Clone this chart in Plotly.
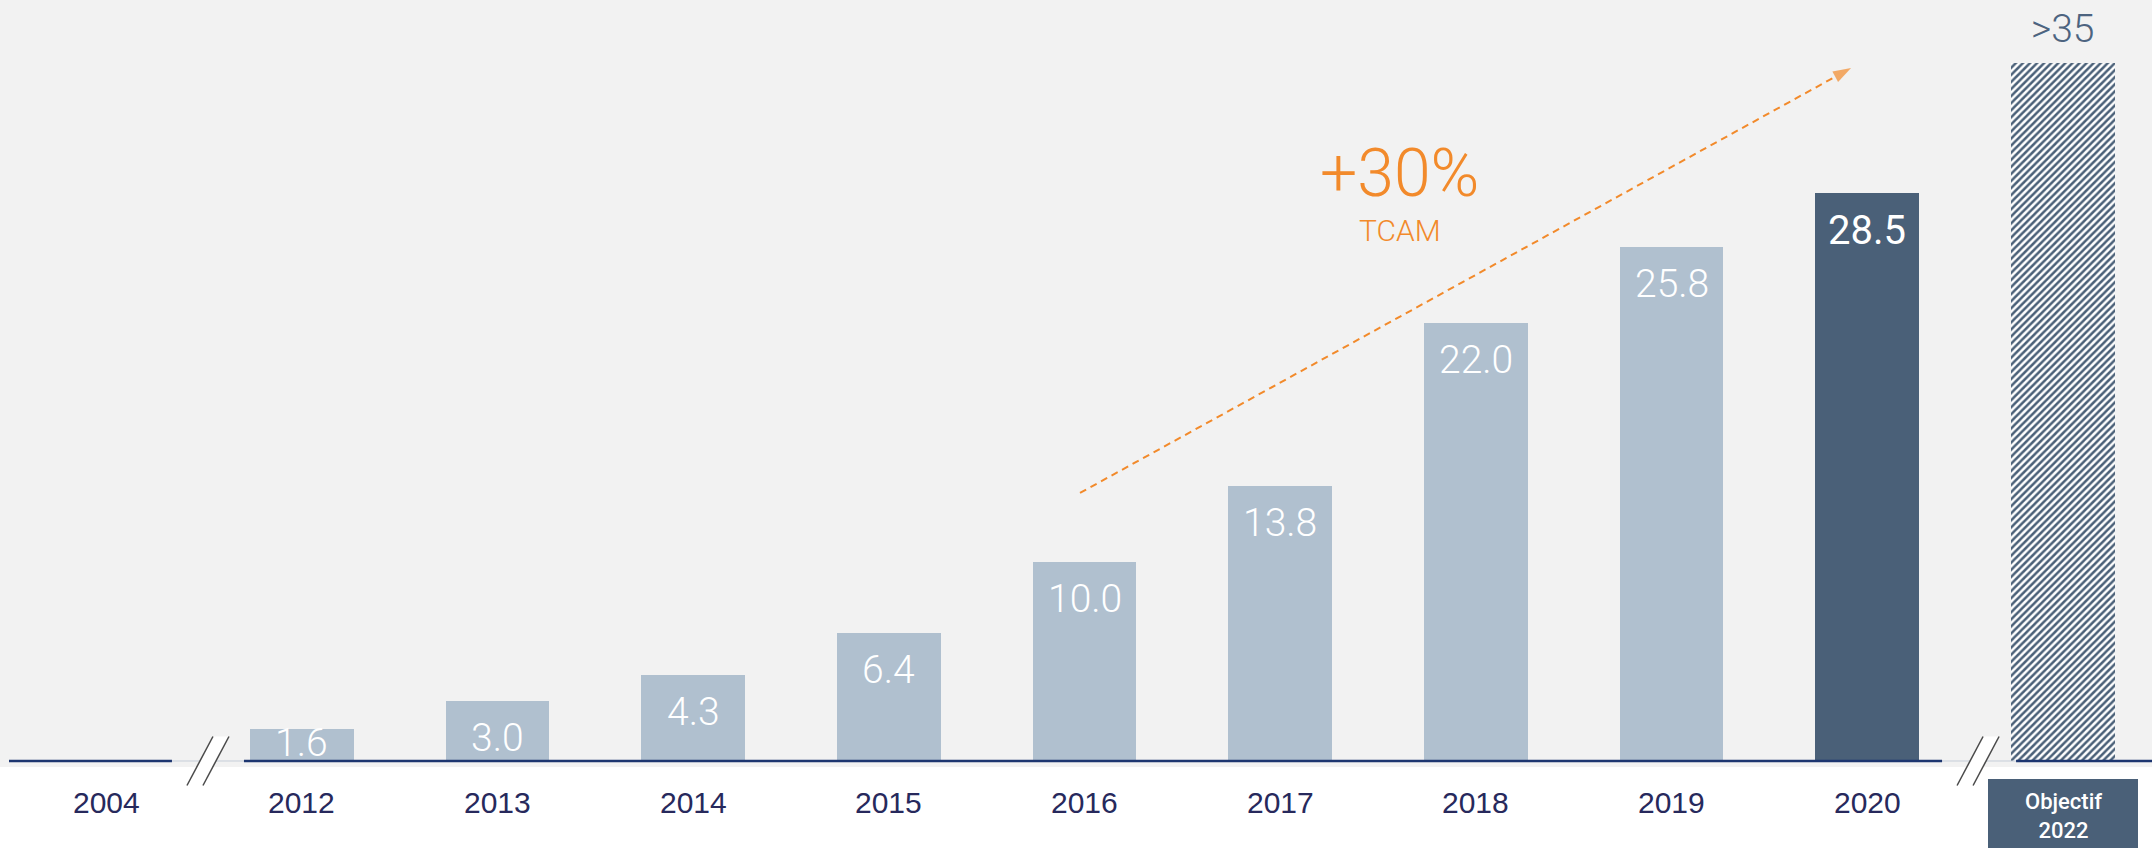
import plotly.graph_objects as go

# ---------------- data ----------------
categories = ["2004", "2012", "2013", "2014", "2015", "2016", "2017", "2018", "2019", "2020", "Objectif<br>2022"]
values = [None, 1.6, 3.0, 4.3, 6.4, 10.0, 13.8, 22.0, 25.8, 28.5, 35.0]
value_labels = ["", "1.6", "3.0", "4.3", "6.4", "10.0", "13.8", "22.0", "25.8", "28.5", ">35"]
growth_label = "+30%"
growth_sub = "TCAM"

# ---------------- styling / geometry ----------------
W, H = 2152, 848
B_MARGIN = 81
PLOT_H = H - B_MARGIN
CAT_PX = 195.7          # pixels per category
X0_PX = 106.0           # pixel of first category
PPU = 19.93             # pixels per unit on y
XMIN = -X0_PX / CAT_PX
XMAX = XMIN + W / CAT_PX
YMIN = -6 / PPU
YMAX = YMIN + PLOT_H / PPU

LIGHT = "#b0c0cf"
DARK = "#4a6078"
ORANGE = "#f28a2b"
NAVY = "#1d3670"
TICK = "#27295c"
BG = "#f2f2f2"
LABEL_FONT = "Roboto"
TICK_FONT = "Liberation Sans"

n = len(categories)
idx = list(range(n))
last = n - 1
bar_colors = [LIGHT] * (n - 2) + [DARK, "white"]


def xp(i):
    return (i - XMIN) / (XMAX - XMIN)


def yp(v):
    return (v - YMIN) / (YMAX - YMIN)


def dy(p):  # vertical pixel distance -> paper
    return p / PLOT_H


fig = go.Figure()

bar_x = [i for i in idx if values[i] is not None and i != last]
fig.add_trace(go.Bar(
    x=bar_x,
    y=[values[i] for i in bar_x],
    width=0.53,
    marker=dict(color=[bar_colors[i] for i in bar_x], line=dict(width=0)),
    hoverinfo="skip",
    showlegend=False,
))
# target bar (hatched)
fig.add_trace(go.Bar(
    x=[last],
    y=[values[last]],
    width=0.53,
    marker=dict(
        color="white",
        line=dict(width=0),
        pattern=dict(shape="/", fgcolor=DARK, bgcolor="white", size=5, solidity=0.5, fgopacity=1),
    ),
    hoverinfo="skip",
    showlegend=False,
))

# growth arrow (dashed line + arrow head)
arrow_x = [4.977, 8.917]
arrow_y = [13.45, 34.77]
fig.add_trace(go.Scatter(
    x=arrow_x, y=arrow_y, mode="lines+markers",
    line=dict(color=ORANGE, width=2, dash="7px,5px"),
    marker=dict(symbol="arrow", size=[0, 19], color=ORANGE, angleref="previous", line=dict(width=0)),
    hoverinfo="skip", showlegend=False, cliponaxis=False,
))

shapes = []
# axis baseline
y_axis = yp(0)
gap_centers = [0.521, 9.566]
segs = [(9 / W, xp(gap_centers[0]) - 36 / W),
        (xp(gap_centers[0]) + 36 / W, xp(gap_centers[1]) - 36 / W),
        (xp(gap_centers[1]) + 38 / W, 1.0)]
for c in gap_centers:
    shapes.append(dict(type="line", xref="paper", yref="paper",
                       x0=xp(c) - 36 / W, x1=xp(c) + 38 / W, y0=y_axis, y1=y_axis,
                       line=dict(color="#c5cdd8", width=1)))
for a, b in segs:
    shapes.append(dict(type="line", xref="paper", yref="paper", x0=a, x1=b, y0=y_axis, y1=y_axis,
                       line=dict(color=NAVY, width=2.5)))

# break marks (white parallelogram with dark slashes)
for c in gap_centers:
    cx = xp(c)
    hx, hy, off = 13 / W, dy(24.5), 8 / W
    p = [(cx - off - hx, y_axis - hy), (cx - off + hx, y_axis + hy),
         (cx + off + hx, y_axis + hy), (cx + off - hx, y_axis - hy)]
    path = "M{} {} L{} {} L{} {} L{} {} Z".format(*[v for pt in p for v in pt])
    shapes.append(dict(type="path", xref="paper", yref="paper", path=path,
                       fillcolor="white", line=dict(width=0)))
    for s in (-off, off):
        shapes.append(dict(type="line", xref="paper", yref="paper",
                           x0=cx + s - hx, y0=y_axis - hy, x1=cx + s + hx, y1=y_axis + hy,
                           line=dict(color="#4a4a4a", width=1.5)))

# Objectif box
shapes.append(dict(type="rect", xref="paper", yref="paper",
                   x0=xp(last) - 75 / W, x1=xp(last) + 75 / W,
                   y0=y_axis - dy(90), y1=y_axis - dy(18),
                   fillcolor=DARK, line=dict(width=0)))

annotations = []
# value labels
for i in idx:
    v = values[i]
    if v is None:
        continue
    if i == last:
        annotations.append(dict(x=i, y=v, xref="x", yref="y", text=value_labels[i], showarrow=False,
                                yanchor="middle", yshift=34,
                                font=dict(family=LABEL_FONT, size=39, color="#4d6480", weight=300)))
        continue
    hpx = v * PPU
    off = min(37, hpx - 18)
    dark = bar_colors[i] == DARK
    annotations.append(dict(x=i, y=v, xref="x", yref="y", text=value_labels[i], showarrow=False,
                            yanchor="middle", yshift=-off,
                            font=dict(family=LABEL_FONT, size=40 if dark else 39, color="white",
                                      weight=400 if dark else 300)))

# category labels
for i in idx:
    if i == last:
        annotations.append(dict(x=i, y=y_axis - dy(55), xref="x", yref="paper", text=categories[i],
                                showarrow=False, yanchor="middle",
                                font=dict(family=LABEL_FONT, size=22, color="white", weight=500)))
    else:
        annotations.append(dict(x=i, y=0, xref="x", yref="y", text=categories[i], showarrow=False,
                                yanchor="middle", yshift=-41.5,
                                font=dict(family=TICK_FONT, size=30, color=TICK)))

# growth text
annotations.append(dict(x=6.612, y=29.5, xref="x", yref="y", text=growth_label, showarrow=False,
                        yanchor="middle", font=dict(family=LABEL_FONT, size=66, color=ORANGE, weight=300)))
annotations.append(dict(x=6.612, y=26.64, xref="x", yref="y", text=growth_sub, showarrow=False,
                        yanchor="middle", font=dict(family=LABEL_FONT, size=30, color=ORANGE, weight=300)))

fig.update_layout(
    width=W, height=H,
    margin=dict(l=0, r=0, t=0, b=B_MARGIN, pad=0),
    paper_bgcolor="white", plot_bgcolor=BG,
    xaxis=dict(range=[XMIN, XMAX], visible=False, fixedrange=True),
    yaxis=dict(range=[YMIN, YMAX], visible=False, fixedrange=True),
    shapes=shapes, annotations=annotations,
    barmode="overlay", bargap=0,
)

fig.write_html(
    "out.html",
    config={"displayModeBar": False},
    post_script="document.body.style.margin='0';document.body.style.overflow='hidden';",
)
